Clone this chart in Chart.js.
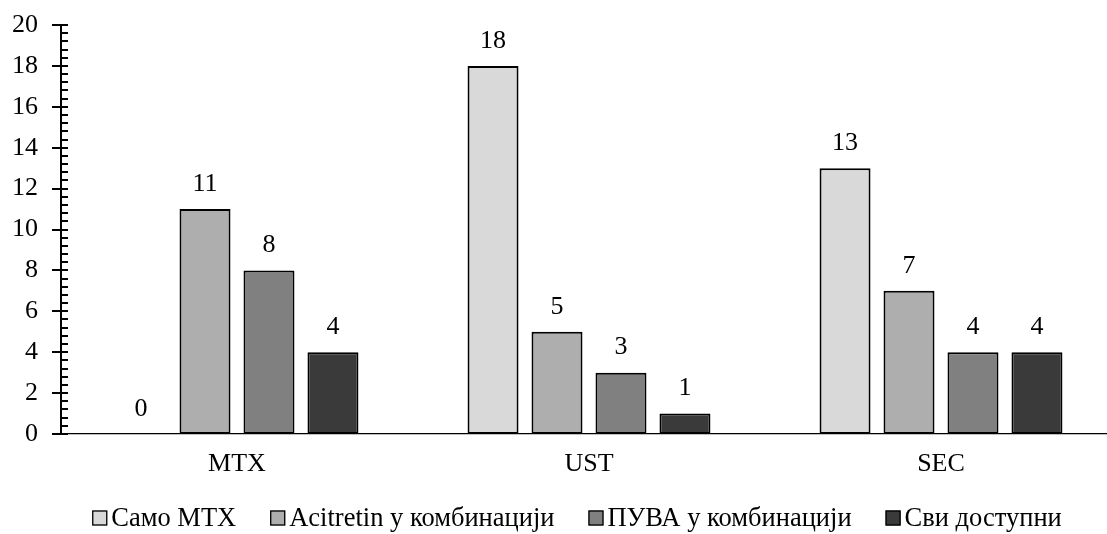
<!DOCTYPE html>
<html>
<head>
<meta charset="utf-8">
<script src="https://cdn.jsdelivr.net/npm/chart.js@4/dist/chart.umd.min.js"></script>
<style>
  html, body { margin: 0; padding: 0; background: #fff; overflow: hidden; }
  #wrap { width: 1120px; height: 534px; }
</style>
</head>
<body>
<div id="wrap"><canvas id="c" width="1120" height="534"></canvas></div>
<script>
// Treatment groups on the x axis
const categories = ['MTX', 'UST', 'SEC'];

// Series: number of patients per previous-therapy group
const seriesNames = ['Само MTX', 'Acitretin у комбинацији', 'ПУВА у комбинацији', 'Сви доступни'];
const samoMTX   = [0, 18, 13];
const acitretin = [11, 5, 7];
const puva      = [8, 3, 4];
const sviDost   = [4, 1, 4];
const seriesColors = ['#d9d9d9', '#aeaeae', '#808080', '#3a3a3a'];

// Y axis range
const yMin = 0;
const yMax = 20;
const yMajorStep = 2;
const yMinorStep = 0.4;

const FONT = "'Liberation Serif', 'Times New Roman', serif";
const FONT_SIZE = 26;
const LEGEND_FONT_SIZE = 26.5;

// Tick marks crossing the y axis (major) and inner minor marks
const axisTicks = {
  id: 'axisTicks',
  afterDraw(chart) {
    const ctx = chart.ctx;
    const y = chart.scales.y;
    const x0 = chart.chartArea.left;
    ctx.save();
    ctx.strokeStyle = '#000';
    ctx.lineWidth = 2;
    const nMinor = Math.round((yMax - yMin) / yMinorStep);
    for (let i = 0; i <= nMinor; i++) {
      const v = yMin + i * yMinorStep;
      const py = Math.round(y.getPixelForValue(v));
      const major = Math.abs(v / yMajorStep - Math.round(v / yMajorStep)) < 1e-6;
      ctx.beginPath();
      ctx.moveTo(major ? x0 - 9 : x0, py);
      ctx.lineTo(x0 + 7, py);
      ctx.stroke();
    }
    ctx.restore();
  }
};

// Value labels above each bar
const valueLabels = {
  id: 'valueLabels',
  afterDatasetsDraw(chart) {
    const ctx = chart.ctx;
    ctx.save();
    ctx.font = FONT_SIZE + 'px ' + FONT;
    ctx.fillStyle = '#000';
    ctx.textAlign = 'center';
    ctx.textBaseline = 'middle';
    chart.data.datasets.forEach((ds, di) => {
      chart.getDatasetMeta(di).data.forEach((bar, i) => {
        ctx.fillText(String(ds.data[i]), bar.x, bar.y - 25);
      });
    });
    ctx.restore();
  }
};

// Legend row under the plot area
const legendRow = {
  id: 'legendRow',
  afterDraw(chart) {
    const ctx = chart.ctx;
    const area = chart.chartArea;
    const box = 15, gapText = 4, gapItem = 34;
    ctx.save();
    ctx.font = LEGEND_FONT_SIZE + 'px ' + FONT;
    ctx.textBaseline = 'middle';
    ctx.textAlign = 'left';
    const items = chart.data.datasets.map(ds => ({
      label: ds.label, color: ds.backgroundColor,
      w: box + gapText + ctx.measureText(ds.label).width
    }));
    const total = items.reduce((s, it) => s + it.w, 0) + gapItem * (items.length - 1);
    let x = (area.left + area.right) / 2 - 12 - total / 2;
    const cy = area.bottom + 84;
    items.forEach(it => {
      ctx.fillStyle = it.color;
      ctx.fillRect(x, cy - box / 2, box, box);
      ctx.strokeStyle = '#000';
      ctx.lineWidth = 1.3;
      ctx.strokeRect(x + 0.5, cy - box / 2 + 0.5, box - 1, box - 1);
      ctx.fillStyle = '#000';
      ctx.fillText(it.label, x + box + gapText, cy + 1);
      x += it.w + gapItem;
    });
    ctx.restore();
  }
};

const allSeries = [samoMTX, acitretin, puva, sviDost];

new Chart(document.getElementById('c'), {
  type: 'bar',
  data: {
    labels: categories,
    datasets: allSeries.map((vals, i) => ({
      label: seriesNames[i],
      data: vals,
      backgroundColor: seriesColors[i],
      borderColor: '#000',
      borderWidth: 2,
      borderSkipped: false,
      barPercentage: 0.797,
      categoryPercentage: 0.727
    }))
  },
  options: {
    responsive: false,
    animation: false,
    devicePixelRatio: 1,
    layout: { padding: { left: 0, right: 3, top: 25, bottom: 0 } },
    plugins: {
      legend: { display: false },
      tooltip: { enabled: false }
    },
    scales: {
      x: {
        grid: { display: false, drawTicks: false },
        border: { display: true, color: '#000', width: 1.3 },
        ticks: { font: { family: FONT, size: FONT_SIZE }, color: '#000', padding: 15 },
        afterFit(scale) { scale.height = 100; scale.paddingLeft = 0; scale.paddingRight = 0; }
      },
      y: {
        min: yMin,
        max: yMax,
        grid: { display: false, drawTicks: false },
        border: { display: true, color: '#000', width: 2 },
        ticks: {
          stepSize: yMajorStep,
          font: { family: FONT, size: FONT_SIZE },
          color: '#000',
          padding: 23
        },
        afterFit(scale) { scale.width = 61; scale.paddingTop = 0; scale.paddingBottom = 0; }
      }
    }
  },
  plugins: [axisTicks, valueLabels, legendRow]
});
</script>
</body>
</html>
